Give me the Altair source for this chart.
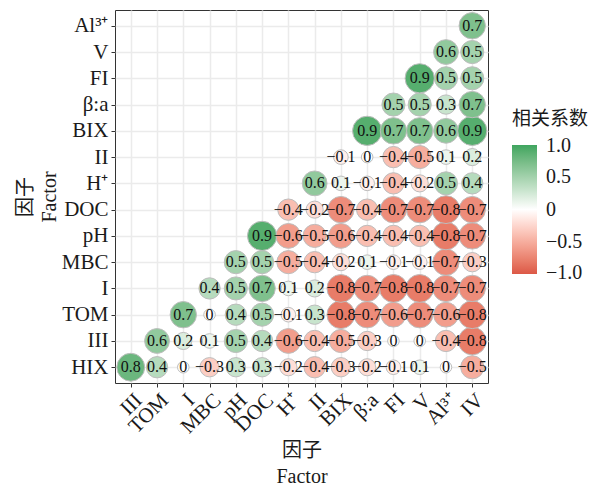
import altair as alt
import pandas as pd

# Factor order along the x axis (left to right) and y axis (bottom to top)
x_factors = ["III", "TOM", "I", "MBC", "pH", "DOC", "H⁺", "II", "BIX", "β:a", "FI", "V", "Al³⁺", "IV"]
y_factors = ["HIX", "III", "TOM", "I", "MBC", "pH", "DOC", "H⁺", "II", "BIX", "β:a", "FI", "V", "Al³⁺"]

# Correlation coefficients per row; row k starts at x_factors[k]
r_HIX = [0.8, 0.4, 0, -0.3, 0.3, 0.3, -0.2, -0.4, -0.3, -0.2, -0.1, 0.1, 0, -0.5]
r_III = [0.6, 0.2, 0.1, 0.5, 0.4, -0.6, -0.4, -0.5, -0.3, 0, 0, -0.4, -0.8]
r_TOM = [0.7, 0, 0.4, 0.5, -0.1, 0.3, -0.8, -0.7, -0.6, -0.7, -0.6, -0.8]
r_I = [0.4, 0.5, 0.7, 0.1, 0.2, -0.8, -0.7, -0.8, -0.8, -0.7, -0.7]
r_MBC = [0.5, 0.5, -0.5, -0.4, -0.2, 0.1, -0.1, -0.1, -0.7, -0.3]
r_pH = [0.9, -0.6, -0.5, -0.6, -0.4, -0.4, -0.4, -0.8, -0.7]
r_DOC = [-0.4, -0.2, -0.7, -0.4, -0.7, -0.7, -0.8, -0.7]
r_H = [0.6, 0.1, -0.1, -0.4, -0.2, 0.5, 0.4]
r_II = [-0.1, 0, -0.4, -0.5, 0.1, 0.2]
r_BIX = [0.9, 0.7, 0.7, 0.6, 0.9]
r_beta = [0.5, 0.5, 0.3, 0.7]
r_FI = [0.9, 0.5, 0.5]
r_V = [0.6, 0.5]
r_Al = [0.7]

rows = [r_HIX, r_III, r_TOM, r_I, r_MBC, r_pH, r_DOC, r_H, r_II, r_BIX, r_beta, r_FI, r_V, r_Al]

# Legend tick values; the end values sit just inside the domain so their
# labels stay centred on the tick instead of being tucked inside the bar
legend_values = [0.99, 0.5, 0, -0.5, -0.99]


def fmt(v):
    if v == 0:
        return "0"
    return f"{v:.1f}".replace("-", "−")


records = []
for k, (yname, vals) in enumerate(zip(y_factors, rows)):
    for j, v in enumerate(vals):
        records.append({"x": x_factors[k + j], "y": yname, "r": v, "absr": abs(v), "label": fmt(v)})
df = pd.DataFrame(records)

SERIF = "Liberation Serif, Noto Sans CJK SC"

x_enc = alt.X(
    "x:N",
    sort=x_factors,
    scale=alt.Scale(type="point", padding=0.6),
    axis=alt.Axis(
        title=["因子", "Factor"],
        grid=True,
        labelAngle=-45,
        labelAlign="right",
        labelBaseline="top",
        labelPadding=2,
        titlePadding=4,
        titleLineHeight=26,
    ),
)
y_enc = alt.Y(
    "y:N",
    sort=list(reversed(y_factors)),
    scale=alt.Scale(type="point", padding=0.6),
    axis=alt.Axis(title=["因子", "Factor"], grid=True, labelPadding=3, titlePadding=2, titleLineHeight=24),
)

base = alt.Chart(df).encode(x=x_enc, y=y_enc)

circles = base.mark_circle(opacity=1, stroke="#bdbdbd", strokeWidth=1).encode(
    color=alt.Color(
        "r:Q",
        scale=alt.Scale(domain=[-1, 0, 1], range=["#DC5846", "#FFFFFF", "#3FA55F"], interpolate="lab"),
        legend=alt.Legend(
            title="相关系数",
            values=legend_values,
            labelExpr="datum.value == 0 ? '0' : replace(format(datum.value, '.1f'), '-', '−')",
            orient="none",
            legendX=397,
            legendY=100,
            gradientLength=129,
            gradientThickness=25,
            gradientStrokeWidth=0,
            labelOffset=9,
            labelOverlap=False,
            titlePadding=16,
        ),
    ),
    size=alt.Size("absr:Q", scale=alt.Scale(domain=[0, 1], range=[133, 935]), legend=None),
)

labels = base.mark_text(font="Liberation Serif", fontSize=16, color="#111111").encode(text="label:N")

chart = (
    (circles + labels)
    .properties(
        width=373,
        height=373,
        autosize=alt.AutoSizeParams(type="none"),
        padding={"left": 115, "top": 10, "right": 107, "bottom": 105},
        background="white",
    )
    .configure_view(stroke="#333333", strokeWidth=1)
    .configure_axis(
        domain=False,
        gridColor="#ebebeb",
        gridWidth=1.5,
        tickColor="#333333",
        tickSize=4,
        labelFont=SERIF,
        labelFontSize=21,
        labelColor="#1a1a1a",
        titleFont=SERIF,
        titleFontSize=20,
        titleFontWeight="normal",
        titleColor="#1a1a1a",
    )
    .configure_legend(
        titleFont=SERIF,
        titleFontSize=19,
        titleFontWeight="normal",
        titleColor="#1a1a1a",
        labelFont=SERIF,
        labelFontSize=20,
        labelColor="#1a1a1a",
    )
)

chart.save("out.html", embed_options={"renderer": "svg", "actions": False})
